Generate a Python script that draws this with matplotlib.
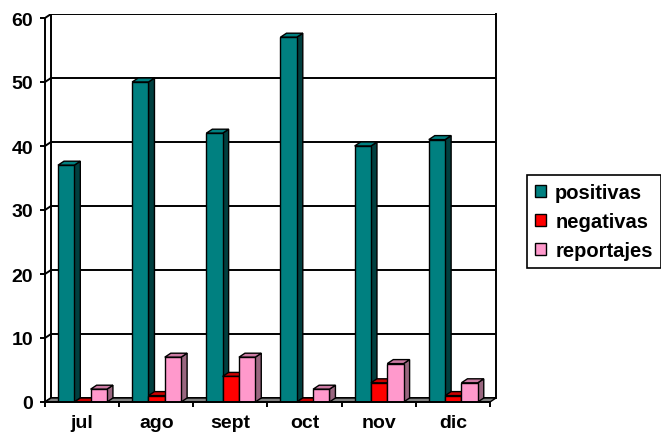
import matplotlib
matplotlib.use("Agg")
import matplotlib.pyplot as plt
from matplotlib.patches import Polygon, Patch

# data
months = ["jul", "ago", "sept", "oct", "nov", "dic"]
positivas = [37, 50, 42, 57, 40, 41]
negativas = [0, 1, 4, 0, 3, 1]
reportajes = [2, 7, 7, 2, 6, 3]
series_names = ["positivas", "negativas", "reportajes"]

# face colours: front, top, side
face_colors = [("#008080", "#008080", "#003f3f"),
               ("#ff0000", "#cc0000", "#800000"),
               ("#ff99cc", "#cc7aa3", "#99667f")]

plt.rcParams["font.family"] = ["Liberation Sans", "DejaVu Sans"]
plt.rcParams["font.weight"] = "bold"

W, H = 661, 439
fig = plt.figure(figsize=(W / 100, H / 100), dpi=100)

# pseudo-3D depth offset in data units
ncat = len(months)
ymax = 60
dx = 0.081
dy = 0.625

ax = fig.add_axes([45 / W, 36 / H, 451 / W, 388 / H])
ax.set_xlim(0, ncat + dx)
ax.set_ylim(0, ymax + dy)

lw = 1.4
# back wall, side wall and gridlines
for v in range(0, ymax + 1, 10):
    ax.plot([dx, ncat + dx], [v + dy, v + dy], color="black", lw=lw, zorder=1)
    ax.plot([0, dx], [v, v + dy], color="black", lw=lw, zorder=1)
ax.plot([dx, dx], [dy, ymax + dy], color="black", lw=lw, zorder=1)
ax.plot([ncat + dx, ncat + dx], [dy, ymax + dy], color="black", lw=lw, zorder=1, clip_on=False)

# floor
ax.add_patch(Polygon([(0, 0), (ncat, 0), (ncat + dx, dy), (dx, dy)], closed=True,
                     facecolor="#808080", edgecolor="black", lw=1.0, zorder=2, clip_on=False))

bar_w = 0.22
offsets = [0.175, 0.175 + bar_w, 0.175 + 2 * bar_w]
all_series = [positivas, negativas, reportajes]

for k, (vals, (front, top, side)) in enumerate(zip(all_series, face_colors)):
    z = 3 + k
    xs = [i + offsets[k] for i in range(ncat)]
    for x, v in zip(xs, vals):
        ax.add_patch(Polygon([(x + bar_w, 0), (x + bar_w, v), (x + bar_w + dx, v + dy), (x + bar_w + dx, dy)],
                             closed=True, facecolor=side, edgecolor="black", lw=1.0, zorder=z))
        ax.add_patch(Polygon([(x, v), (x + bar_w, v), (x + bar_w + dx, v + dy), (x + dx, v + dy)],
                             closed=True, facecolor=top, edgecolor="black", lw=1.0, zorder=z))
    ax.bar(xs, vals, width=bar_w, align="edge", color=front, edgecolor="black", lw=1.0, zorder=z)

# axes
for s in ["top", "right"]:
    ax.spines[s].set_visible(False)
for s in ["left", "bottom"]:
    ax.spines[s].set_linewidth(lw)
    ax.spines[s].set_zorder(10)
ax.spines["left"].set_bounds(0, ymax)
ax.spines["bottom"].set_bounds(0, ncat)

ax.set_yticks(range(0, ymax + 1, 10))
ax.tick_params(axis="y", length=3.6, width=lw, pad=5, labelsize=14)
ax.set_xticks(range(0, ncat + 1))
ax.set_xticklabels([])
ax.tick_params(axis="x", which="major", length=3.6, width=lw)
ax.set_xticks([i + 0.5 for i in range(ncat)], minor=True)
ax.set_xticklabels(months, minor=True)
ax.tick_params(axis="x", which="minor", length=0, pad=9, labelsize=14)

handles = [Patch(facecolor=c[0], edgecolor="black", lw=1.0) for c in face_colors]
leg = fig.legend(handles, series_names, loc="upper left",
                 bbox_to_anchor=(527 / W, 1 - 176 / H),
                 frameon=True, fancybox=False, edgecolor="black", framealpha=1,
                 prop={"size": 14.5, "weight": "bold"},
                 handlelength=0.55, handleheight=0.55, handletextpad=0.45,
                 labelspacing=0.5, borderpad=0.4, borderaxespad=0)
leg.get_frame().set_linewidth(1.2)

fig.savefig("out.png", dpi=100)
